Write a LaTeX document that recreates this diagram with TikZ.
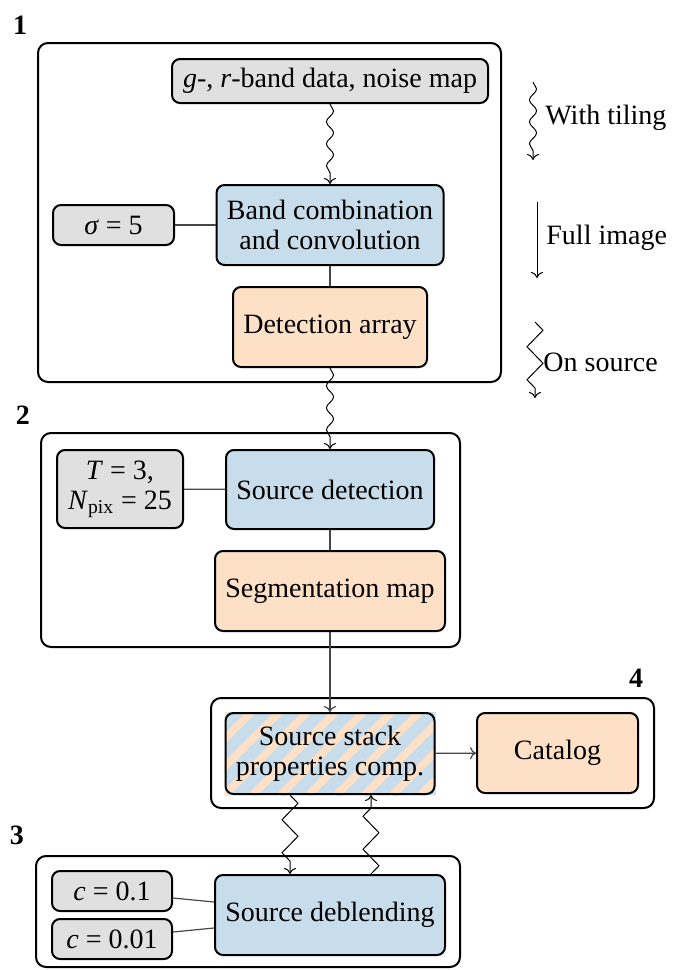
\documentclass[tikz,border=0pt]{standalone}
\usepackage{fontspec}
\setmainfont{Liberation Serif}
\usetikzlibrary{decorations.pathmorphing,arrows.meta,backgrounds}
\definecolor{cblue}{RGB}{199,221,235}
\definecolor{corange}{RGB}{253,224,197}
\definecolor{cgray}{RGB}{224,224,224}
\definecolor{cline}{RGB}{70,70,70}
\begin{document}
\begin{tikzpicture}[x=0.5pt,y=-0.5pt,
  font=\fontsize{14}{15}\selectfont,
  nbox/.style={draw, line width=1pt, rounded corners=4pt, align=center, inner sep=0pt},
  gbox/.style={nbox, fill=cgray},
  bbox/.style={nbox, fill=cblue},
  obox/.style={nbox, fill=corange},
  grp/.style={draw, line width=1pt, rounded corners=5pt},
  lbl/.style={font=\fontsize{14}{15}\selectfont\bfseries, inner sep=0pt},
  note/.style={anchor=west, inner sep=0pt},
  conn/.style={draw=cline, line width=0.6pt},
  wavy/.style={line width=0.5pt, -{To[length=3pt,width=6pt]}, decorate,
    decoration={snake, amplitude=1.8pt, segment length=11pt, post length=3pt}},
  zz/.style={line width=0.5pt, -{To[length=3pt,width=6pt]}, decorate,
    decoration={zigzag, amplitude=4pt, segment length=16.5pt, post length=1.5pt}},
  tip/.style={-{To[length=3pt,width=6pt]}}
]
\useasboundingbox (0,0) rectangle (680,970);

% group boxes
\draw[grp] (38,43) rectangle (501,382);
\draw[grp] (41,433) rectangle (460,647);
\draw[grp] (211,698) rectangle (654,808);
\draw[grp] (36,856) rectangle (460,967);

% labels
\node[lbl] (l1) at (20,25) {1};
\node[lbl] (l2) at (23,415) {2};
\node[lbl] (l3) at (17,835) {3};
\node[lbl] (l4) at (636,678) {4};

% stage 1
\node[gbox, minimum width=158pt, minimum height=22pt] (data) at (330,81) {\textit{g}-, \textit{r}-band data, noise map};
\node[bbox, minimum width=113.5pt, minimum height=40pt] (band) at (330,225) {Band combination\\and convolution};
\node[gbox, minimum width=60.5pt, minimum height=20pt] (sigma) at (113.5,225) {\textit{σ} = 5};
\node[obox, minimum width=97pt, minimum height=40pt] (detect) at (330,327) {Detection array};

% stage 2
\node[gbox, minimum width=63pt, minimum height=39pt] (tn) at (120,489) {\textit{T} = 3,\\\textit{N}\textsubscript{pix} = 25};
\node[bbox, minimum width=104pt, minimum height=39.5pt] (srcdet) at (330,489.5) {Source detection};
\node[obox, minimum width=115pt, minimum height=40pt] (seg) at (330,591) {Segmentation map};

% stage 4
\node[nbox, minimum width=104.5pt, minimum height=40.5pt] (stack) at (330,753.5) {Source stack\\properties comp.};
\node[obox, minimum width=80.5pt, minimum height=40pt] (cat) at (557.5,753) {Catalog};

% stage 3
\node[gbox, minimum width=60pt, minimum height=20pt] (c1) at (112,891) {\textit{c} = 0.1};
\node[gbox, minimum width=60pt, minimum height=20pt] (c2) at (112,939) {\textit{c} = 0.01};
\node[bbox, minimum width=115pt, minimum height=40pt] (deb) at (330,915) {Source deblending};

% striped fill of the stack node
\begin{scope}[on background layer]
  \clip (stack.south west) rectangle (stack.north east);
  \fill[cblue] (stack.south west) rectangle (stack.north east);
  \foreach \i in {-4,...,8}
    \draw[corange, line width=3.8pt] ([xshift=\i*14pt]stack.south west) -- ++(45:90pt);
\end{scope}

% connectors
\draw[wavy] (data) -- (band);
\draw[conn] (sigma) -- (band);
\draw[conn] (band) -- (detect);
\draw[wavy] (detect) -- (srcdet);
\draw[conn] (tn) -- (srcdet);
\draw[conn] (srcdet) -- (seg);
\draw[conn, tip] (seg) -- (stack);
\draw[conn, tip] (stack) -- (cat);
\draw[conn] ([yshift=-3.5pt]c1.east) -- ([yshift=6.5pt]deb.west);
\draw[conn] ([yshift=3.5pt]c2.east) -- ([yshift=-6.5pt]deb.west);

\coordinate (zA1) at ([xshift=-20pt]stack.south);
\coordinate (zA2) at (zA1 |- deb.north);
\coordinate (zB1) at ([xshift=20.5pt]deb.north);
\coordinate (zB2) at (zB1 |- stack.south);
\draw[zz] (zA1) -- (zA2);
\draw[zz, decoration={mirror}] (zB1) -- (zB2);

% legend on the right
\coordinate (w1) at (533,82);
\coordinate (w2) at (533,160);
\draw[wavy] (w1) -- (w2);
\node[note] (wl) at (545,118) {With tiling};
\coordinate (f1) at (537,202);
\coordinate (f2) at (537,278);
\draw[line width=0.5pt, tip] (f1) -- (f2);
\node[note] (fl) at (546,238) {Full image};
\coordinate (o1) at (535,322);
\coordinate (o2) at (535,398);
\draw[zz] (o1) -- (o2);
\node[note] (ol) at (543,362) {On source};
\end{tikzpicture}
\end{document}
